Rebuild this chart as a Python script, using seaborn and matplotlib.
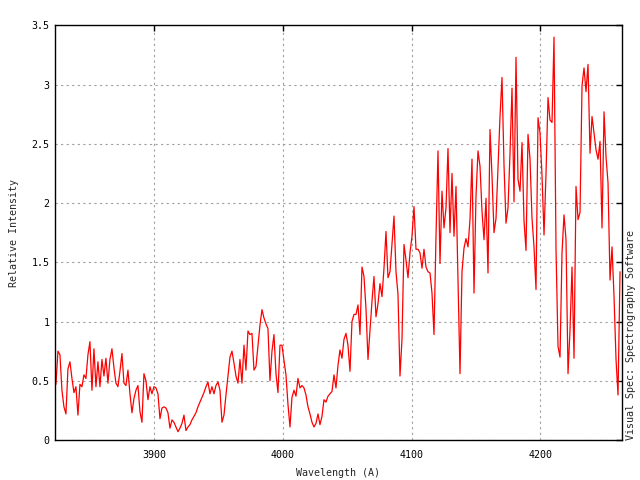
import numpy as np
import seaborn as sns
import matplotlib
matplotlib.use("Agg")
import matplotlib.pyplot as plt

wl_start = 3823.6
wl_end = 4261.9

intensity = [
    # 3823 - 3895
    0.47, 0.75, 0.72, 0.42, 0.28, 0.22, 0.60, 0.66, 0.52, 0.40,
    0.45, 0.21, 0.47, 0.45, 0.55, 0.52, 0.72, 0.83, 0.42, 0.77,
    0.45, 0.66, 0.45, 0.68, 0.54, 0.69, 0.48, 0.68, 0.77, 0.61,
    0.48, 0.45, 0.58, 0.73, 0.48, 0.46, 0.59, 0.39, 0.23, 0.35,
    0.42, 0.46, 0.24, 0.15, 0.56, 0.50, 0.34,
    # 3897 - 3970
    0.45, 0.39, 0.45, 0.44, 0.39, 0.18, 0.27, 0.28, 0.27, 0.23,
    0.10, 0.17, 0.15, 0.11, 0.07, 0.10, 0.14, 0.21, 0.08, 0.11,
    0.13, 0.17, 0.20, 0.23, 0.28, 0.32, 0.36, 0.40, 0.45, 0.49,
    0.39, 0.45, 0.39, 0.46, 0.49, 0.42, 0.15, 0.21, 0.38, 0.54,
    0.70, 0.75, 0.65, 0.54, 0.48, 0.68, 0.48, 0.80,
    # 3972 - 4045
    0.59, 0.92, 0.89, 0.90, 0.59, 0.62, 0.80, 0.97, 1.10, 1.03,
    0.98, 0.94, 0.50, 0.75, 0.89, 0.56, 0.40, 0.80, 0.80, 0.67,
    0.55, 0.30, 0.11, 0.36, 0.42, 0.37, 0.52, 0.44, 0.46, 0.44,
    0.38, 0.28, 0.22, 0.15, 0.11, 0.14, 0.22, 0.13, 0.20, 0.34,
    0.32, 0.37, 0.39, 0.41, 0.55, 0.44, 0.63, 0.76,
    # 4047 - 4118
    0.69, 0.85, 0.90, 0.80, 0.58, 1.00, 1.06, 1.06, 1.14, 0.89,
    1.46, 1.38, 1.11, 0.68, 0.92, 1.17, 1.38, 1.04, 1.15, 1.32,
    1.21, 1.45, 1.76, 1.37, 1.42, 1.65, 1.89, 1.42, 1.23, 0.54,
    0.85, 1.65, 1.52, 1.37, 1.58, 1.72, 1.97, 1.61, 1.61, 1.58,
    1.45, 1.61, 1.46, 1.42, 1.41, 1.24, 0.89,
    # 4120 - 4193
    1.72, 2.44, 1.49, 2.10, 1.79, 1.96, 2.46, 1.75, 2.25, 1.72,
    2.14, 1.37, 0.56, 1.42, 1.62, 1.70, 1.63, 1.86, 2.37, 1.24,
    2.06, 2.44, 2.31, 1.93, 1.69, 2.04, 1.41, 2.62, 2.23, 1.75,
    1.87, 2.31, 2.73, 3.06, 2.32, 1.83, 1.96, 2.42, 2.97, 2.01,
    3.23, 2.20, 2.10, 2.51, 1.85, 1.60, 2.58, 2.37,
    # 4195 - 4262
    1.87, 1.63, 1.27, 2.72, 2.59, 2.23, 1.73, 2.25, 2.89, 2.70,
    2.68, 3.40, 1.61, 0.79, 0.70, 1.58, 1.90, 1.69, 0.56, 0.93,
    1.46, 0.69, 2.14, 1.86, 1.92, 2.99, 3.14, 2.94, 3.17, 2.42,
    2.73, 2.59, 2.45, 2.37, 2.52, 1.79, 2.77, 2.39, 2.17, 1.35,
    1.63, 1.21, 0.68, 0.38, 1.42,
]

wavelength = np.linspace(wl_start, wl_end, len(intensity))

x_ticks = [3900, 4000, 4100, 4200]
y_ticks = [0, 0.5, 1, 1.5, 2, 2.5, 3, 3.5]
y_tick_labels = ["0", "0.5", "1", "1.5", "2", "2.5", "3", "3.5"]

sns.set_style("white")
plt.rcParams["font.family"] = ["DejaVu Sans Mono"]
FS = 7.2

fig = plt.figure(figsize=(6.4, 4.8), dpi=100)
ax = fig.add_axes([0.0864, 0.0833, 0.885, 0.864])

sns.lineplot(x=wavelength, y=intensity, color="red", linewidth=0.9, ax=ax)

ax.set_xlim(3823.1, 4263.2)
ax.set_ylim(0, 3.5)
ax.set_xticks(x_ticks)
ax.set_xticklabels([str(t) for t in x_ticks])
ax.set_yticks(y_ticks)
ax.set_yticklabels(y_tick_labels)

ax.grid(True, color="#a0a0a0", linestyle=(0, (2, 3)), linewidth=0.8)
ax.set_axisbelow(True)
ax.tick_params(direction="in", length=4, width=1, labelsize=FS,
               top=True, right=True, colors="black")
ax.tick_params(axis="x", pad=7)
ax.tick_params(axis="y", pad=4)
for s in ax.spines.values():
    s.set_color("black")
    s.set_linewidth(1)

ax.set_xlabel("Wavelength (A)", fontsize=FS, labelpad=6)
ax.set_ylabel("Relative Intensity", fontsize=FS, labelpad=9)

fig.text(631 / 640, 0.0833, "Visual Spec: Spectrography Software", rotation=90,
         fontsize=FS, ha="center", va="bottom")

fig.savefig("out.png", dpi=100)
